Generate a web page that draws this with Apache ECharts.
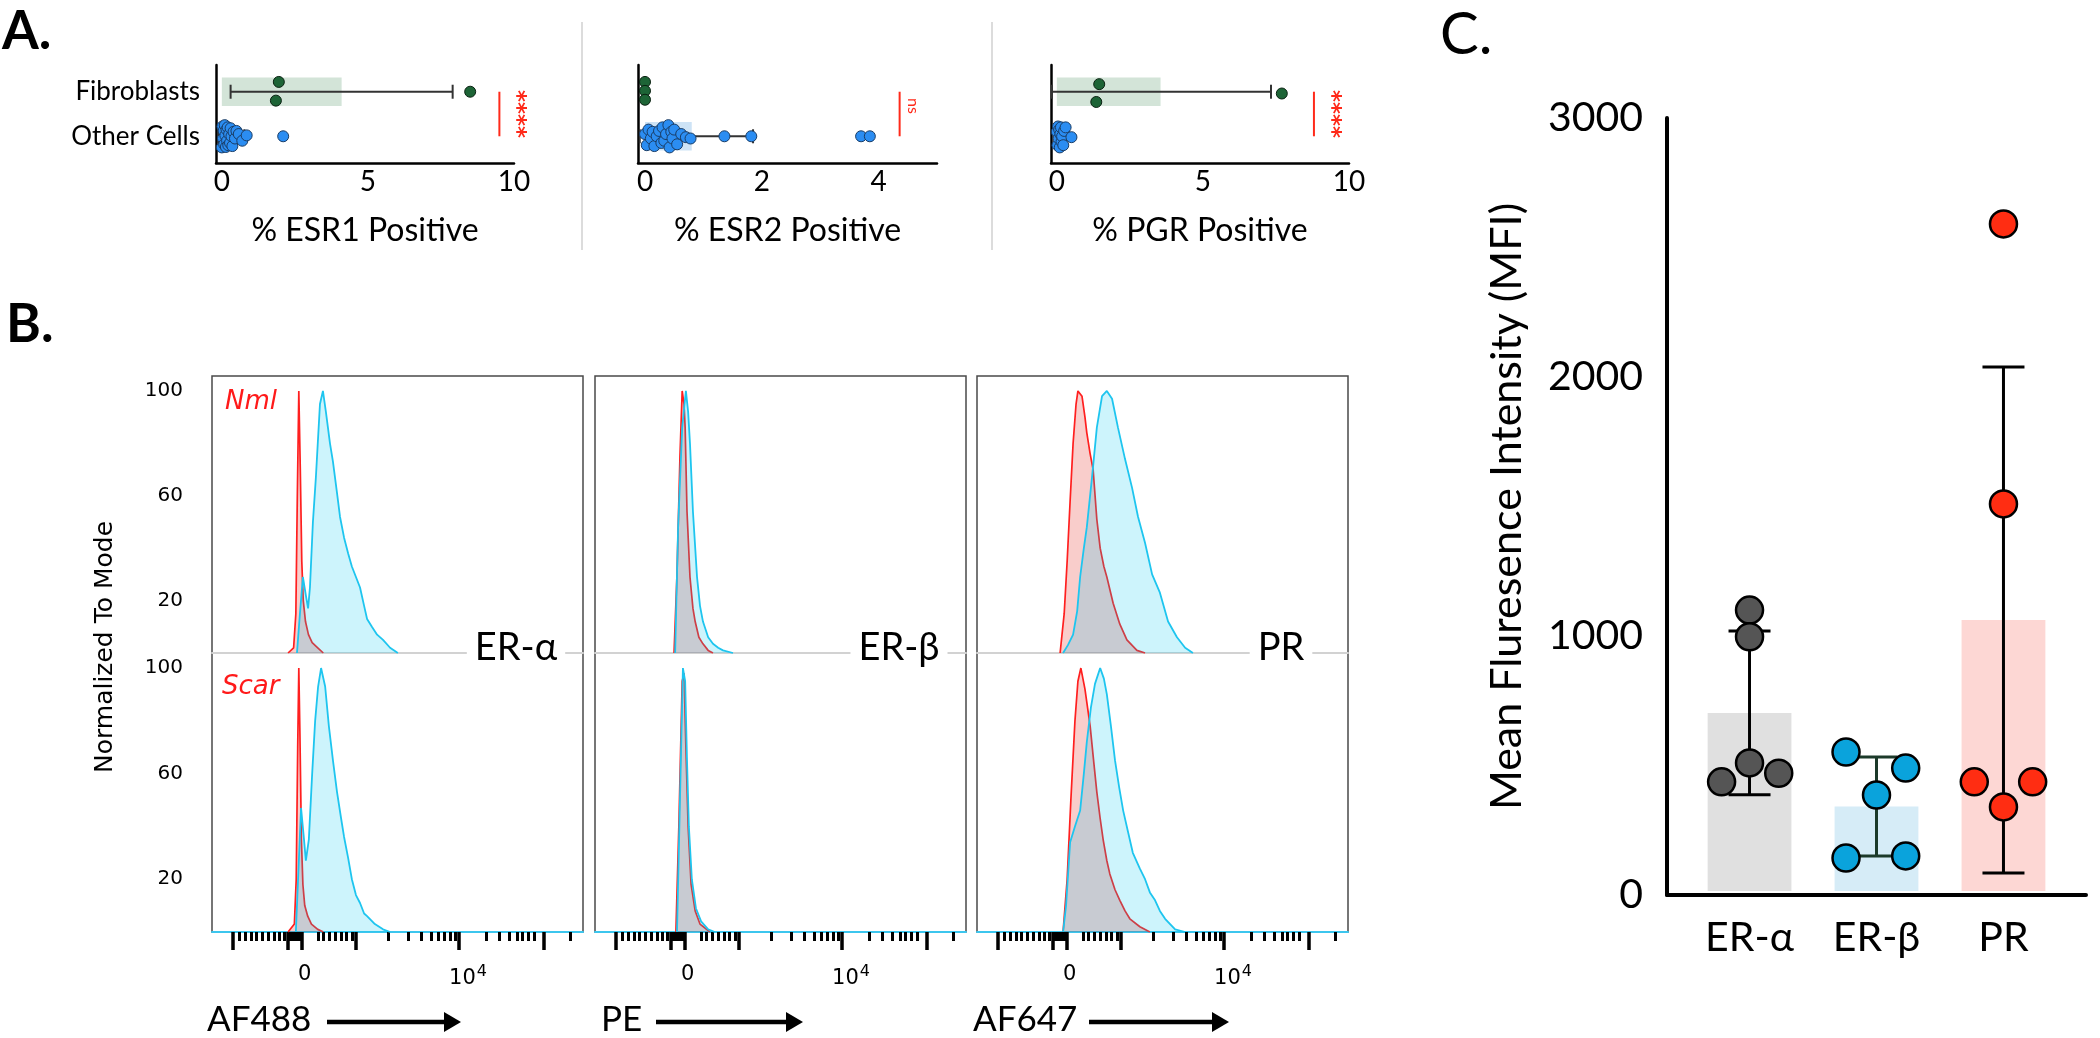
<!DOCTYPE html>
<html><head><meta charset="utf-8">
<script src="https://cdn.jsdelivr.net/npm/echarts@6/dist/echarts.min.js"></script>
<style>html,body{margin:0;padding:0;background:#fff}#c{width:2100px;height:1038px}</style>
</head><body><div id="c"></div>
<script>
// ================= DATA =================
// ---- Panel A (rows: 1 = Other Cells, 2 = Fibroblasts) ----
const rowLabels = ['Other Cells', 'Fibroblasts'];
const aTitles = ['% ESR1 Positive', '% ESR2 Positive', '% PGR Positive'];
const aTickValues = [[0, 5, 10], [0, 2, 4], [0, 5, 10]];

const esr1FibValues = [1.95, 1.85, 8.5];
const esr1FibJitter = [0.22, -0.2, 0.0];
const esr1OtherValues = [0.00,0.02,0.04,0.06,0.08,0.10,0.12,0.14,0.16,0.18,0.20,0.22,0.25,0.28,0.30,0.33,0.36,0.40,0.45,0.50,0.58,0.70,0.85,2.10];
const esr1OtherJitter = [-0.25,0.22,-0.05,0.12,-0.18,0.25,0.02,-0.24,0.15,-0.1,0.2,-0.2,0.05,-0.15,0.18,0,-0.22,0.1,-0.05,0.12,0.05,-0.1,0.02,0];
const esr1Means = [0.32, 4.1];   // [Other, Fib]
const esr1SD = [0.45, 3.8];

const esr2FibValues = [0, 0, 0];
const esr2FibJitter = [0.22, 0.02, -0.18];
const esr2OtherValues = [0.00,0.03,0.06,0.10,0.13,0.16,0.20,0.24,0.28,0.30,0.33,0.36,0.40,0.42,0.45,0.47,0.50,0.55,0.62,0.70,0.78,1.36,1.82,3.70,3.85];
const esr2OtherJitter = [0.05,-0.2,0.15,-0.05,0.1,-0.22,0.0,0.12,-0.15,0.2,-0.1,0.05,0.25,-0.25,0.1,-0.05,0.15,-0.18,0.05,-0.02,-0.05,0,0,0,0];
const esr2Means = [0.8, 0];
const esr2SD = [1.05, 0];

const pgrFibValues = [1.45, 1.35, 7.7];
const pgrFibJitter = [0.17, -0.23, -0.04];
const pgrOtherValues = [0.00,0.02,0.04,0.06,0.08,0.10,0.12,0.14,0.16,0.18,0.22,0.25,0.30,0.50];
const pgrOtherJitter = [0.1,-0.2,0.22,-0.05,0.15,-0.25,0.05,0.2,-0.12,0,-0.2,0.12,0.2,-0.02];
const pgrMeans = [0.15, 3.55];
const pgrSD = [0.15, 3.78];

const sigPositions = [9.5, 4.36, 8.8];
const sigLabels = ['****', 'ns', '****'];

// ---- Panel B: flow histograms, x in display channels (0-1000), y = % of mode ----
const bMarkers = ['ER-α', 'ER-β', 'PR'];
const bChannels = ['AF488', 'PE', 'AF647'];
const bRowLabels = ['Nml', 'Scar'];
const bYTicks = [20, 60, 100];
const bXLabelValues = [250, 690];
const bMajorTicks = [57, 205, 243, 388, 666, 893];
const bMinorTicks = [73,89,105,119,135,151,167,181,195,210,215,220,225,230,235,240,286,299,315,331,348,361,377,474,528,563,590,609,625,642,655,738,774,801,822,836,852,868,965];

const erAlphaNmlRed  = [[205,0],[220,2],[226,15],[230,60],[234,100],[238,70],[242,35],[246,20],[252,12],[260,7],[270,4],[285,2],[300,0]];
const erAlphaNmlBlue = [[229,0],[237,15],[245,29],[253,22],[259,17],[264,25],[272,50],[280,67],[291,95],[299,100],[307,92],[318,80],[326,73],[337,61],[345,52],[356,44],[367,38],[377,33],[388,29],[399,25],[410,18],[418,13],[431,10],[445,7],[461,5],[480,2],[501,0]];
const erAlphaScarRed  = [[205,0],[222,3],[227,20],[231,70],[234,100],[237,75],[241,35],[245,18],[250,10],[258,6],[268,3],[285,1],[300,0]];
const erAlphaScarBlue = [[226,0],[232,20],[240,47],[248,35],[253,27],[261,35],[270,60],[278,80],[286,93],[294,100],[305,93],[315,78],[326,65],[337,53],[348,43],[356,36],[367,28],[377,20],[388,14],[399,11],[410,7],[418,6],[439,3],[461,1],[480,0]];
const erBetaNmlRed  = [[213,0],[221,30],[229,75],[235,100],[240,95],[243,86],[248,54],[256,29],[264,17],[270,12],[280,6],[291,3.5],[305,1],[318,0]];
const erBetaNmlBlue = [[216,0],[224,48],[235,86],[245,100],[251,92],[256,80],[264,54],[275,29],[283,18],[291,12],[305,6],[318,3.5],[332,2],[345,1],[372,0]];
const erBetaScarRed  = [[218,0],[226,40],[235,95],[240,98],[245,70],[251,40],[259,18],[270,8],[283,3],[310,0]];
const erBetaScarBlue = [[221,0],[229,50],[237,100],[243,95],[248,65],[253,40],[261,20],[272,9],[286,4],[305,1],[323,0]];
const prNmlRed  = [[224,0],[235,15],[243,35],[251,58],[259,80],[267,95],[272,100],[283,98],[291,90],[296,84],[305,76],[313,70],[323,51],[332,40],[342,33],[350,29],[367,19],[385,11],[404,5],[431,1],[453,0]];
const prNmlBlue = [[232,0],[245,3],[259,7],[270,16],[278,29],[288,40],[296,48],[310,67],[323,86],[337,98],[350,100],[364,97],[380,86],[399,74],[418,63],[434,52],[453,42],[472,30],[493,23],[515,12],[539,6],[561,2],[582,0]];
const prScarRed  = [[232,0],[243,20],[253,50],[264,80],[272,95],[280,100],[291,92],[305,78],[315,64],[323,53],[332,43],[340,35],[350,27],[358,22],[372,16],[385,12],[399,8],[412,5],[439,2],[466,0]];
const prScarBlue = [[232,0],[240,10],[251,34],[264,40],[278,46],[288,60],[296,72],[307,85],[318,94],[332,100],[342,96],[350,90],[361,78],[372,65],[383,55],[394,46],[407,38],[420,30],[439,24],[453,20],[466,15],[480,12],[493,8],[507,5],[534,1],[561,0]];

const bHistograms = [
  [[erAlphaNmlRed, erAlphaNmlBlue], [erAlphaScarRed, erAlphaScarBlue]],
  [[erBetaNmlRed, erBetaNmlBlue], [erBetaScarRed, erBetaScarBlue]],
  [[prNmlRed, prNmlBlue], [prScarRed, prScarBlue]]
];

// ---- Panel C ----
const cCategories = ['ER-α', 'ER-β', 'PR'];
const cMeans = [703, 342, 1062];
const cSD = [316, 191, 977];
const erAlphaMFI = [1100, 997, 510, 437, 470];
const erAlphaJitter = [0, 0, 0, -0.22, 0.23];
const erBetaMFI = [552, 490, 386, 143, 151];
const erBetaJitter = [-0.24, 0.23, 0, -0.24, 0.23];
const prMFI = [2591, 1510, 437, 437, 340];
const prJitter = [0, 0, -0.23, 0.23, 0];
const cYTicks = [0, 1000, 2000, 3000];

// ================= BUILD =================
const FONT = 'Lato, "Open Sans", sans-serif';
const FLOW = '"DejaVu Sans", Verdana, sans-serif';
const grids = [], xAxes = [], yAxes = [], series = [], graphics = [];
function addGrid(g) { grids.push(Object.assign({ outerBoundsMode: 'none', containLabel: false }, g)); return grids.length - 1; }

// ---------- Panel A ----------
const aLayout = [{ left: 216, width: 298 }, { left: 638, width: 299 }, { left: 1051, width: 298 }];
const aRange = [[-0.2, 10], [-0.12, 5], [-0.2, 10]];
const aFib = [[esr1FibValues, esr1FibJitter], [esr2FibValues, esr2FibJitter], [pgrFibValues, pgrFibJitter]];
const aOther = [[esr1OtherValues, esr1OtherJitter], [esr2OtherValues, esr2OtherJitter], [pgrOtherValues, pgrOtherJitter]];
const aMeans = [esr1Means, esr2Means, pgrMeans];
const aSD = [esr1SD, esr2SD, pgrSD];
const boxColors = ['#cde3f6', '#d3e4d8'];

for (let i = 0; i < 3; i++) {
  const gi = addGrid({ left: aLayout[i].left, width: aLayout[i].width, top: 65, height: 98 });
  const axLine = { show: true, onZero: false, lineStyle: { color: '#000', width: 2.5 } };
  xAxes.push({ gridIndex: gi, type: 'value', min: aRange[i][0], max: aRange[i][1],
    axisLine: axLine, axisTick: { show: false }, splitLine: { show: false },
    axisLabel: { customValues: aTickValues[i], color: '#000', fontSize: 28, fontFamily: FONT, margin: 5 },
    name: aTitles[i], nameLocation: 'middle', nameGap: 52,
    nameTextStyle: { color: '#000', fontSize: 32, fontFamily: FONT } });
  yAxes.push({ gridIndex: gi, type: 'value', min: 0.4, max: 2.6,
    axisLine: axLine, axisTick: { show: false }, splitLine: { show: false },
    axisLabel: { show: i === 0, customValues: [1, 2], formatter: v => rowLabels[Math.round(v) - 1],
      color: '#000', fontSize: 26, fontFamily: FONT, margin: 16 } });
  const xmin = aRange[i][0];
  series.push({ type: 'custom', xAxisIndex: gi, yAxisIndex: gi, z: 1, silent: true,
    data: aMeans[i].map((m, r) => [m, r + 1]),
    renderItem: (p, api) => {
      const m = api.value(0), r = api.value(1);
      const a = api.coord([0, r + 0.32]), b = api.coord([m, r - 0.32]);
      return { type: 'rect', shape: { x: a[0], y: a[1], width: b[0] - a[0], height: b[1] - a[1] },
        style: { fill: boxColors[r - 1] } };
    } });
  series.push({ type: 'custom', xAxisIndex: gi, yAxisIndex: gi, z: 2, silent: true,
    data: aMeans[i].map((m, r) => [m, r + 1, aSD[i][r]]),
    renderItem: (p, api) => {
      const m = api.value(0), r = api.value(1), sd = api.value(2);
      if (!sd) return null;
      const L = api.coord([Math.max(m - sd, xmin + 0.03), r]), H = api.coord([m + sd, r]);
      const h = 7, st = { stroke: '#333', lineWidth: 2 };
      return { type: 'group', children: [
        { type: 'line', shape: { x1: L[0], y1: L[1], x2: H[0], y2: H[1] }, style: st },
        { type: 'line', shape: { x1: L[0], y1: L[1] - h, x2: L[0], y2: L[1] + h }, style: st },
        { type: 'line', shape: { x1: H[0], y1: H[1] - h, x2: H[0], y2: H[1] + h }, style: st } ] };
    } });
  series.push({ type: 'scatter', xAxisIndex: gi, yAxisIndex: gi, z: 4, symbolSize: 11,
    data: aOther[i][0].map((v, k) => [v, 1 + aOther[i][1][k]]),
    itemStyle: { color: '#2b8df2', borderColor: '#1a3d66', borderWidth: 1, opacity: 1 } });
  series.push({ type: 'scatter', xAxisIndex: gi, yAxisIndex: gi, z: 5, symbolSize: 11,
    data: aFib[i][0].map((v, k) => [v, 2 + aFib[i][1][k]]),
    itemStyle: { color: '#1d6436', borderColor: '#0a2212', borderWidth: 1, opacity: 1 } });
  const lab = sigLabels[i];
  series.push({ type: 'custom', xAxisIndex: gi, yAxisIndex: gi, z: 6, silent: true,
    data: [[sigPositions[i], 1.5]],
    renderItem: (p, api) => {
      const top = api.coord([api.value(0), 2]), bot = api.coord([api.value(0), 1]);
      const isNs = lab === 'ns';
      return { type: 'group', children: [
        { type: 'line', shape: { x1: top[0], y1: top[1], x2: bot[0], y2: bot[1] }, style: { stroke: '#ff2a1a', lineWidth: 2 } },
        { type: 'text', x: top[0] + (isNs ? 14 : 17), y: (top[1] + bot[1]) / 2 + (isNs ? -8 : 0), rotation: -Math.PI / 2,
          style: { text: lab, fill: '#ff2a1a', font: isNs ? ('16px ' + FONT) : ('bold 23px ' + FLOW), align: 'center', verticalAlign: 'middle' } } ] };
    } });
}
[582, 992].forEach(x => graphics.push({ type: 'line', shape: { x1: x, y1: 22, x2: x, y2: 250 }, style: { stroke: '#dcdcdc', lineWidth: 2 }, z: 0 }));

// ---------- Panel B ----------
const bLeft = [212, 595, 977];
const bW = 371;
const rowTop = [376, 653], rowH = [277, 279];
for (let c = 0; c < 3; c++) {
  const fg = addGrid({ left: bLeft[c], width: bW, top: 376, height: 556, show: true, borderColor: '#4a4a4a', borderWidth: 1.5, backgroundColor: 'transparent' });
  xAxes.push({ gridIndex: fg, type: 'value', show: false });
  yAxes.push({ gridIndex: fg, type: 'value', show: false });
  for (let r = 0; r < 2; r++) {
    const gi = addGrid({ left: bLeft[c], width: bW, top: rowTop[r], height: rowH[r] });
    const xi = xAxes.length;
    if (r === 0) {
      xAxes.push({ gridIndex: gi, type: 'value', min: 0, max: 1000,
        axisLine: { show: true, onZero: false, lineStyle: { color: '#d2d2d2', width: 2 } },
        axisTick: { show: false }, axisLabel: { show: false }, splitLine: { show: false } });
    } else {
      xAxes.push({ gridIndex: gi, type: 'value', min: 0, max: 1000, position: 'bottom',
        axisLine: { show: true, onZero: false, lineStyle: { color: '#3cc6ee', width: 2 } },
        axisTick: { show: true, customValues: bMajorTicks, length: 18, lineStyle: { color: '#000', width: 3.5 } },
        axisLabel: { show: false }, splitLine: { show: false } });
      xAxes.push({ gridIndex: gi, type: 'value', min: 0, max: 1000, position: 'bottom',
        axisLine: { show: false },
        axisTick: { show: true, customValues: bMinorTicks, length: 9, lineStyle: { color: '#000', width: 3 } },
        axisLabel: { show: true, customValues: bXLabelValues, margin: 32, color: '#000', fontSize: 21, fontFamily: FLOW,
          formatter: v => v < 500 ? '0' : '{b|10}{s|4}',
          rich: { b: { fontSize: 21, fontFamily: FLOW, color: '#000' }, s: { fontSize: 16, fontFamily: FLOW, color: '#000', padding: [0, 0, 14, 1] } } },
        splitLine: { show: false } });
    }
    const yi = yAxes.length;
    yAxes.push({ gridIndex: gi, type: 'value', min: 0, max: 105.7,
      axisLine: { show: false }, axisTick: { show: false }, splitLine: { show: false },
      axisLabel: { show: c === 0, customValues: bYTicks, color: '#000', fontSize: 20, fontFamily: FLOW, margin: 29 } });
    const [red, blue] = bHistograms[c][r];
    series.push({ type: 'line', xAxisIndex: xi, yAxisIndex: yi, data: red, symbol: 'none', z: 2,
      lineStyle: { color: '#ff1f1f', width: 1.7 }, areaStyle: { color: 'rgba(228,18,8,0.30)' } });
    series.push({ type: 'line', xAxisIndex: xi, yAxisIndex: yi, data: blue, symbol: 'none', z: 3,
      lineStyle: { color: '#1ec5ef', width: 1.8 }, areaStyle: { color: 'rgba(0,200,240,0.28)' } });
  }
  graphics.push({ type: 'text', x: bLeft[c] + bW - 67, y: 648, z: 50,
    style: { text: bMarkers[c], fill: '#000', font: '38px ' + FONT, align: 'center', verticalAlign: 'middle',
      backgroundColor: '#fff', padding: [0, 8, 0, 8] } });
}
const bTitleLeft = [207, 601, 973];
const bArrow = [[327, 461], [656, 803], [1089, 1229]];
for (let c = 0; c < 3; c++) {
  graphics.push({ type: 'text', x: bTitleLeft[c], y: 1020, style: { text: bChannels[c], fill: '#000', font: '35px ' + FONT, align: 'left', verticalAlign: 'middle' } });
  const [a0, a1] = bArrow[c];
  graphics.push({ type: 'line', shape: { x1: a0, y1: 1022, x2: a1 - 12, y2: 1022 }, style: { stroke: '#000', lineWidth: 4.5 } });
  graphics.push({ type: 'polygon', shape: { points: [[a1 - 17, 1012], [a1, 1022], [a1 - 17, 1032]] }, style: { fill: '#000' } });
}
graphics.push({ type: 'text', x: 225, y: 402, style: { text: bRowLabels[0], fill: '#ff1a1a', font: 'italic 26px ' + FLOW, align: 'left', verticalAlign: 'middle' } });
graphics.push({ type: 'text', x: 222, y: 687, style: { text: bRowLabels[1], fill: '#ff1a1a', font: 'italic 26px ' + FLOW, align: 'left', verticalAlign: 'middle' } });
graphics.push({ type: 'text', x: 105, y: 647, rotation: Math.PI / 2, style: { text: 'Normalized To Mode', fill: '#000', font: '25px ' + FLOW, align: 'center', verticalAlign: 'middle' } });

// ---------- Panel C ----------
const cg = addGrid({ left: 1667, width: 419, top: 118, height: 777 });
const cxi = xAxes.length, cyi = yAxes.length;
xAxes.push({ gridIndex: cg, type: 'value', min: 0.35, max: 3.65,
  axisLine: { show: true, onZero: false, lineStyle: { color: '#000', width: 4 } }, axisTick: { show: false }, splitLine: { show: false },
  axisLabel: { customValues: [1, 2, 3], formatter: v => cCategories[Math.round(v) - 1], color: '#000', fontSize: 41, fontFamily: FONT, margin: 22 } });
yAxes.push({ gridIndex: cg, type: 'value', min: 0, max: 3000, interval: 1000,
  axisLine: { show: true, onZero: false, lineStyle: { color: '#000', width: 4 } }, axisTick: { show: false }, splitLine: { show: false },
  axisLabel: { customValues: cYTicks, formatter: v => String(v), color: '#000', fontSize: 41, fontFamily: FONT, margin: 24 },
  name: 'Mean Fluresence Intensity (MFI)', nameLocation: 'middle', nameRotate: 90, nameGap: 138,
  nameTextStyle: { color: '#000', fontSize: 43, fontFamily: FONT } });
const cBarColors = ['#e0e0e0', '#d6ecf7', '#fdd7d4'];
const cErrColors = ['#000', '#1c3a2a', '#000'];
const cDotColors = ['#555555', '#0aa3dc', '#ff2d12'];
series.push({ type: 'custom', xAxisIndex: cxi, yAxisIndex: cyi, z: 1, silent: true,
  data: cMeans.map((m, i) => [i + 1, m]),
  renderItem: (p, api) => {
    const x = api.value(0), m = api.value(1);
    const a = api.coord([x - 0.33, m]), b = api.coord([x + 0.33, 0]);
    return { type: 'rect', shape: { x: a[0], y: a[1], width: b[0] - a[0], height: b[1] - a[1] - 4 }, style: { fill: cBarColors[p.dataIndex] } };
  } });
series.push({ type: 'custom', xAxisIndex: cxi, yAxisIndex: cyi, z: 2, silent: true,
  data: cMeans.map((m, i) => [i + 1, m, cSD[i]]),
  renderItem: (p, api) => {
    const x = api.value(0), m = api.value(1), sd = api.value(2);
    const L = api.coord([x, m - sd]), H = api.coord([x, m + sd]);
    const w = 21, st = { stroke: cErrColors[p.dataIndex], lineWidth: 3 };
    return { type: 'group', children: [
      { type: 'line', shape: { x1: L[0], y1: L[1], x2: H[0], y2: H[1] }, style: st },
      { type: 'line', shape: { x1: L[0] - w, y1: L[1], x2: L[0] + w, y2: L[1] }, style: st },
      { type: 'line', shape: { x1: H[0] - w, y1: H[1], x2: H[0] + w, y2: H[1] }, style: st } ] };
  } });
[[erAlphaMFI, erAlphaJitter], [erBetaMFI, erBetaJitter], [prMFI, prJitter]].forEach(([vals, jit], i) => {
  series.push({ type: 'scatter', xAxisIndex: cxi, yAxisIndex: cyi, z: 3, symbolSize: 27,
    data: vals.map((v, k) => [i + 1 + jit[k], v]),
    itemStyle: { color: cDotColors[i], borderColor: '#000', borderWidth: 2.5, opacity: 1 } });
});

graphics.push({ type: 'text', x: 2, y: 5, style: { text: 'A.', fill: '#000', font: 'bold 53px ' + FONT, align: 'left', verticalAlign: 'top' } });
graphics.push({ type: 'text', x: 6, y: 298, style: { text: 'B.', fill: '#000', font: 'bold 53px ' + FONT, align: 'left', verticalAlign: 'top' } });
graphics.push({ type: 'text', x: 1440, y: 6, style: { text: 'C.', fill: '#000', font: '58px ' + FONT, align: 'left', verticalAlign: 'top' } });

const chart = echarts.init(document.getElementById('c'), null, { renderer: 'canvas', width: 2100, height: 1038 });
chart.setOption({ animation: false, backgroundColor: '#fff', grid: grids, xAxis: xAxes, yAxis: yAxes, series: series, graphic: { elements: graphics } });
</script></body></html>
